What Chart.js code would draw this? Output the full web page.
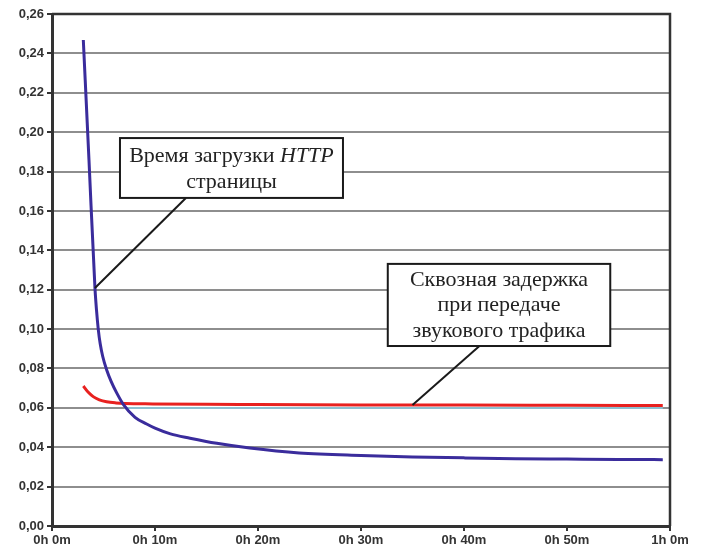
<!DOCTYPE html>
<html>
<head>
<meta charset="utf-8">
<script src="https://cdn.jsdelivr.net/npm/chart.js@4/dist/chart.umd.min.js"></script>
<style>
  body { margin: 0; background: #fff; }
</style>
</head>
<body>
<canvas id="myChart" width="705" height="551"></canvas>
<script>
// HTTP page load time (blue)
const httpMinutes = [3.04, 3.59, 4.17, 4.32, 4.49, 4.68, 4.92, 5.31, 5.75, 6.28, 6.92, 8.06, 9.19, 10, 11.5, 13.4, 16, 19.2, 24, 30, 35, 40, 45, 50, 55, 59.3];
const httpDelay = [0.2468, 0.1859, 0.1209, 0.1097, 0.1, 0.0925, 0.0862, 0.0792, 0.0733, 0.0676, 0.0618, 0.0552, 0.0518, 0.0497, 0.0468, 0.0446, 0.042, 0.0396, 0.0371, 0.0358, 0.0351, 0.0346, 0.0342, 0.034, 0.0338, 0.0337];

// end-to-end voice delay (red)
const voiceMinutes = [3.04, 3.5, 4.0, 4.6, 5.3, 6.2, 7.1, 9.8, 15, 20, 30, 35, 40, 50, 59.3];
const voiceDelay = [0.0711, 0.068, 0.0657, 0.0641, 0.0631, 0.0625, 0.0622, 0.062, 0.0618, 0.0617, 0.0615, 0.0614, 0.0614, 0.0613, 0.0612];

// faint light-blue trace under the red one
const baseMinutes = [7.0, 59.3];
const baseDelay = [0.0599, 0.0599];

const httpLabel = ['Время загрузки ', 'HTTP', 'страницы'];
const voiceLabel = ['Сквозная задержка', 'при передаче', 'звукового трафика'];

const toPoints = (xs, ys) => xs.map((x, i) => ({ x: x, y: ys[i] }));

const notes = {
    id: 'notes',
    afterDatasetsDraw(chart) {
        const ctx = chart.ctx;
        const x = chart.scales.x;
        const y = chart.scales.y;
        const area = chart.chartArea;

        // frame round the plot
        ctx.save();
        ctx.strokeStyle = '#333';
        ctx.lineWidth = 2.5;
        ctx.beginPath();
        ctx.moveTo(area.left, area.top);
        ctx.lineTo(area.right, area.top);
        ctx.lineTo(area.right, area.bottom);
        ctx.stroke();

        const serif = '22px "Liberation Serif", "DejaVu Serif", serif';
        const italic = 'italic 22px "Liberation Serif", "DejaVu Serif", serif';

        // box 1
        const b1 = { l: x.getPixelForValue(6.6), r: x.getPixelForValue(28.25), t: y.getPixelForValue(0.197), b: y.getPixelForValue(0.1666) };
        const p1 = chart.getDatasetMeta(0).data[2];
        ctx.strokeStyle = '#1a1a1a';
        ctx.lineWidth = 2;
        ctx.beginPath();
        ctx.moveTo(x.getPixelForValue(13), b1.b);
        ctx.lineTo(p1.x, p1.y);
        ctx.stroke();

        // box 2
        const b2 = { l: x.getPixelForValue(32.6), r: x.getPixelForValue(54.2), t: y.getPixelForValue(0.1331), b: y.getPixelForValue(0.0914) };
        const p2 = chart.getDatasetMeta(1).data[11];
        ctx.beginPath();
        ctx.moveTo(x.getPixelForValue(41.5), b2.b);
        ctx.lineTo(p2.x, p2.y);
        ctx.stroke();

        [b1, b2].forEach(b => {
            ctx.fillStyle = '#fff';
            ctx.fillRect(b.l, b.t, b.r - b.l, b.b - b.t);
            ctx.strokeRect(b.l, b.t, b.r - b.l, b.b - b.t);
        });

        ctx.fillStyle = '#222';
        ctx.textBaseline = 'alphabetic';
        ctx.textAlign = 'left';
        ctx.font = serif;
        const w1 = ctx.measureText(httpLabel[0]).width;
        ctx.font = italic;
        const w2 = ctx.measureText(httpLabel[1]).width;
        let cx = (b1.l + b1.r) / 2;
        let sx = cx - (w1 + w2) / 2;
        ctx.font = serif;
        ctx.fillText(httpLabel[0], sx, b1.t + 24);
        ctx.font = italic;
        ctx.fillText(httpLabel[1], sx + w1, b1.t + 24);
        ctx.font = serif;
        ctx.textAlign = 'center';
        ctx.fillText(httpLabel[2], cx, b1.t + 50);

        cx = (b2.l + b2.r) / 2;
        voiceLabel.forEach((line, i) => {
            ctx.fillText(line, cx, b2.t + 22 + i * 25.5);
        });
        ctx.restore();
    }
};

const data = {
    datasets: [{
        data: toPoints(httpMinutes, httpDelay),
        borderColor: '#3a2c9c',
        borderWidth: 3,
        cubicInterpolationMode: 'monotone',
        pointRadius: 0
    }, {
        data: toPoints(voiceMinutes, voiceDelay),
        borderColor: '#e8211f',
        borderWidth: 3,
        cubicInterpolationMode: 'monotone',
        pointRadius: 0
    }, {
        data: toPoints(baseMinutes, baseDelay),
        borderColor: '#8ccfe6',
        borderWidth: 1.5,
        pointRadius: 0
    }]
};

const tickFont = { family: '"Liberation Sans", Arial, sans-serif', size: 13, weight: 'bold' };

const config = {
    type: 'line',
    data: data,
    plugins: [notes],
    options: {
        responsive: false,
        animation: false,
        layout: { padding: { top: 14, right: 35, left: 0, bottom: 0 } },
        plugins: {
            legend: { display: false },
            tooltip: { enabled: false }
        },
        scales: {
            x: {
                type: 'linear',
                min: 0,
                max: 60,
                afterFit: s => { s.height = 25; },
                border: { color: '#333', width: 3 },
                grid: { drawOnChartArea: false, tickColor: '#333', tickLength: 5, lineWidth: 2 },
                ticks: {
                    stepSize: 10,
                    padding: 2,
                    color: '#333',
                    font: tickFont,
                    maxRotation: 0,
                    callback: v => Math.floor(v / 60) + 'h ' + (v % 60) + 'm'
                }
            },
            y: {
                min: 0,
                max: 0.26,
                afterFit: s => { s.width = 52; },
                border: { color: '#333', width: 3 },
                grid: { color: '#8e8e8e', lineWidth: 2, tickColor: '#333', tickLength: 5 },
                ticks: {
                    stepSize: 0.02,
                    padding: 3,
                    color: '#333',
                    font: tickFont,
                    callback: v => v.toFixed(2).replace('.', ',')
                }
            }
        }
    }
};

const myChart = new Chart(document.getElementById('myChart'), config);
</script>
</body>
</html>
